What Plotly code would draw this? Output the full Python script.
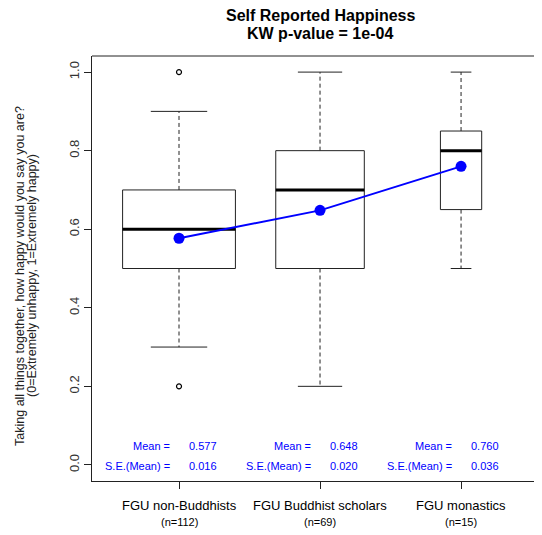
import numpy as np
import plotly.graph_objects as go

# ---- data ----
groups = ["FGU non-Buddhists", "FGU Buddhist scholars", "FGU monastics"]
n_obs = [112, 69, 15]
q1 = [0.5, 0.5, 0.65]
medians = [0.6, 0.7, 0.8]
q3 = [0.7, 0.8, 0.85]
whisk_lo = [0.3, 0.2, 0.5]
whisk_hi = [0.9, 1.0, 1.0]
outliers = [[1.0, 0.2], [], []]
means = [0.577, 0.648, 0.760]
se_means = [0.016, 0.020, 0.036]
y_ticks = [0.0, 0.2, 0.4, 0.6, 0.8, 1.0]
title_lines = ["Self Reported Happiness", "KW p-value = 1e-04"]
ytitle_lines = ["Taking all things together, how happy would you say you are?",
                "(0=Extremely unhappy, 1=Extremely happy)"]

FONT = "Liberation Sans, Arial, sans-serif"
EDGE = "#222222"
BLUE = "#0000ff"

xs = [1, 2, 3]
maxn = max(n_obs)
widths = [0.8 * np.sqrt(n / maxn) for n in n_obs]

fig = go.Figure()

for i, x in enumerate(xs):
    hw = widths[i] / 2
    for a, b in [(q3[i], whisk_hi[i]), (q1[i], whisk_lo[i])]:
        fig.add_trace(go.Scatter(x=[x, x], y=[a, b], mode="lines",
                                 line=dict(color=EDGE, width=1, dash="4px,3px"),
                                 hoverinfo="skip", showlegend=False))
    for v in [whisk_hi[i], whisk_lo[i]]:
        fig.add_trace(go.Scatter(x=[x - hw / 2, x + hw / 2], y=[v, v], mode="lines",
                                 line=dict(color=EDGE, width=1),
                                 hoverinfo="skip", showlegend=False))
    fig.add_trace(go.Scatter(x=[x - hw, x + hw, x + hw, x - hw, x - hw],
                             y=[q1[i], q1[i], q3[i], q3[i], q1[i]],
                             mode="lines", fill="toself", fillcolor="white",
                             line=dict(color=EDGE, width=1),
                             hoverinfo="skip", showlegend=False))
    fig.add_trace(go.Scatter(x=[x - hw, x + hw], y=[medians[i], medians[i]], mode="lines",
                             line=dict(color="black", width=3),
                             hoverinfo="skip", showlegend=False))
    if outliers[i]:
        fig.add_trace(go.Scatter(x=[x] * len(outliers[i]), y=outliers[i], mode="markers",
                                 marker=dict(symbol="circle-open", size=5,
                                             color="black", line=dict(width=1.2)),
                                 hoverinfo="skip", showlegend=False))

fig.add_trace(go.Scatter(x=xs, y=means, mode="lines+markers",
                         line=dict(color=BLUE, width=2),
                         marker=dict(color=BLUE, size=11),
                         showlegend=False))

ann = []
for i, x in enumerate(xs):
    for txt, yy, side in [("Mean =", 0.048, "r"), (f"{means[i]:.3f}", 0.048, "l"),
                          ("S.E.(Mean) =", -0.003, "r"), (f"{se_means[i]:.3f}", -0.003, "l")]:
        ann.append(dict(x=x - 0.05 if side == "r" else x + 0.057, y=yy, xref="x", yref="y",
                        text=txt, xanchor="right" if side == "r" else "left",
                        yanchor="middle", showarrow=False,
                        font=dict(size=11, color=BLUE, family=FONT)))
    ann.append(dict(x=x, y=0, xref="x", yref="paper", text=groups[i],
                    xanchor="center", yanchor="middle", yshift=-24, showarrow=False,
                    font=dict(size=13, color="black", family=FONT)))
    ann.append(dict(x=x, y=0, xref="x", yref="paper", text=f"(n={n_obs[i]})",
                    xanchor="center", yanchor="middle", yshift=-41, showarrow=False,
                    font=dict(size=11, color="black", family=FONT)))

# title (two lines)
for txt, sh in zip(title_lines, [41, 23]):
    ann.append(dict(x=0.507, y=1, xref="paper", yref="paper", text=f"<b>{txt}</b>",
                    xanchor="center", yanchor="middle", yshift=sh, showarrow=False,
                    font=dict(size=16, color="black", family=FONT)))
# y title (two lines)
for txt, sh in zip(ytitle_lines, [-72, -60]):
    ann.append(dict(x=0, y=0.481, xref="paper", yref="y", text=txt,
                    xanchor="center", yanchor="middle", xshift=sh, textangle=-90,
                    showarrow=False, font=dict(size=12.5, color="#222222", family=FONT)))

# page has an 8px body margin: figure is shrunk by 8px and margins reduced accordingly
fig.update_layout(
    width=534, height=527,
    margin=dict(l=84, r=0, t=48, b=54),
    paper_bgcolor="white", plot_bgcolor="white",
    font=dict(family=FONT, size=13, color="#222222"),
    annotations=ann,
    shapes=[dict(type="line", xref="paper", yref="paper", x0=0, x1=1, y0=1, y1=1,
                 line=dict(color=EDGE, width=1))],
    xaxis=dict(range=[0.383, 3.574], showgrid=False, zeroline=False,
               showline=True, linecolor=EDGE, linewidth=1,
               tickvals=xs, ticks="outside", ticklen=7, tickcolor=EDGE,
               showticklabels=False),
    yaxis=dict(range=[-0.041, 1.041], showgrid=False, zeroline=False,
               showline=True, linecolor=EDGE, linewidth=1,
               tickvals=y_ticks, ticktext=[f"{v:.1f}" for v in y_ticks],
               ticks="outside", ticklen=7, tickcolor=EDGE, tickangle=-90,
               tickfont=dict(size=13, color="#333333", family=FONT)),
)

fig.write_html("out.html")
